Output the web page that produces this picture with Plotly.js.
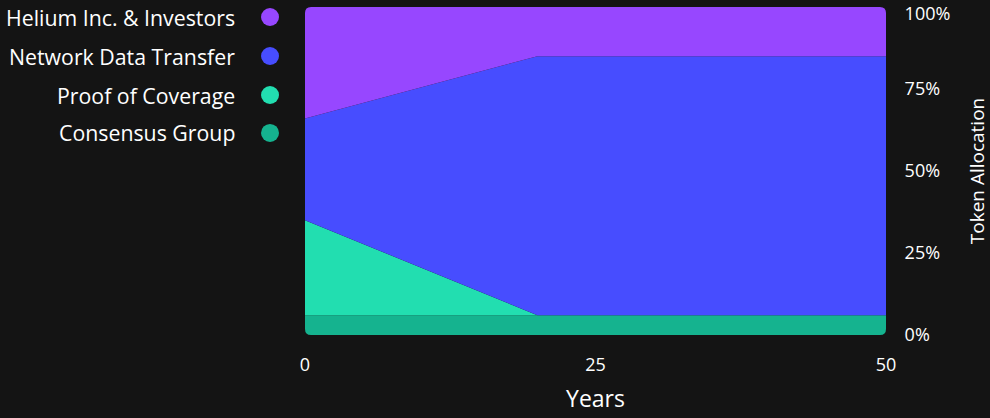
<!DOCTYPE html>
<html>
<head>
<meta charset="utf-8">
<script src="https://cdn.plot.ly/plotly-3.0.1.min.js"></script>
<style>html,body{margin:0;padding:0;background:#141414;}#chart{width:990px;height:418px;}</style>
</head>
<body>
<div id="chart"></div>
<script>
// Data (years vs % token allocation)
const years = [0, 20, 50];
const seriesNames = ["Consensus Group", "Proof of Coverage", "Network Data Transfer", "Helium Inc. & Investors"];
const consensusGroup = [6, 6, 6];
const proofOfCoverage = [29, 0, 0];
const networkDataTransfer = [31, 79, 79];
const heliumInvestors = [34, 15, 15];
const colors = ["#15B38F", "#22DEB0", "#474DFF", "#9747FF"];
const yTicks = [0, 25, 50, 75, 100];
const yTickLabels = ["0%", "25%", "50%", "75%", "100%"];
const xTicks = [0, 25, 50];

const values = [consensusGroup, proofOfCoverage, networkDataTransfer, heliumInvestors];
const FONT = "'Open Sans', sans-serif";
const BG = "#141414";

const traces = values.map((v, i) => ({
  type: "scatter", mode: "lines", x: years, y: v, name: seriesNames[i],
  stackgroup: "one", line: {width: 0, color: colors[i]}, fillcolor: colors[i],
  hoverinfo: "skip", showlegend: false
}));
// empty helper trace so the overlay axis (top tick label) is drawn
traces.push({type: "scatter", mode: "lines", x: [], y: [], yaxis: "y2", showlegend: false, hoverinfo: "skip"});

// custom legend: text on the left, dot on the right (top to bottom: Helium ... Consensus)
const annotations = [];
const shapes = [];
const legendY = [0.9695, 0.8506, 0.7317, 0.6159];
for (let k = 0; k < 4; k++) {
  const i = 3 - k;
  annotations.push({
    xref: "paper", yref: "paper", x: -0.117, y: legendY[k], xanchor: "right", yanchor: "middle",
    text: seriesNames[i], showarrow: false, font: {family: FONT, size: 21.3, color: "#ffffff"}
  });
  shapes.push({
    type: "circle", xref: "paper", yref: "paper", xsizemode: "pixel", ysizemode: "pixel",
    xanchor: -0.0602, yanchor: legendY[k], x0: -9, x1: 9, y0: -9, y1: 9,
    fillcolor: colors[i], line: {width: 0}
  });
}
// rounded plot corners
const r = 6;
const corners = [
  {xa: 0, ya: 100, p: `M0,0 L${r},0 Q0,0 0,${-r} Z`},
  {xa: 50, ya: 100, p: `M0,0 L${-r},0 Q0,0 0,${-r} Z`},
  {xa: 0, ya: 0, p: `M0,0 L${r},0 Q0,0 0,${r} Z`},
  {xa: 50, ya: 0, p: `M0,0 L${-r},0 Q0,0 0,${r} Z`}
];
corners.forEach(c => shapes.push({
  type: "path", xref: "x", yref: "y", xsizemode: "pixel", ysizemode: "pixel",
  xanchor: c.xa, yanchor: c.ya, path: c.p, fillcolor: BG, line: {width: 0}, layer: "above"
}));

const yTickFont = {family: FONT, size: 18, color: "#ffffff"};
const layout = {
  width: 990, height: 418,
  paper_bgcolor: BG, plot_bgcolor: BG,
  margin: {l: 305, r: 104, t: 7, b: 83},
  font: {family: FONT, color: "#ffffff"},
  showlegend: false,
  xaxis: {
    range: [0, 50], tickmode: "array", tickvals: xTicks, showgrid: false, zeroline: false, showline: false,
    ticks: "outside", ticklen: 13, tickcolor: "rgba(0,0,0,0)",
    tickfont: {family: FONT, size: 18, color: "#ffffff"},
    title: {text: "Years", font: {family: FONT, size: 23, color: "#ffffff"}, standoff: 16},
    fixedrange: true
  },
  yaxis: {
    range: [0, 100], side: "right", tickmode: "array",
    tickvals: yTicks.slice(0, 4), ticktext: yTickLabels.slice(0, 4),
    ticklabeloverflow: "allow",
    showgrid: false, zeroline: false, showline: false,
    ticks: "outside", ticklen: 14, tickcolor: "rgba(0,0,0,0)",
    tickfont: yTickFont,
    title: {text: "Token Allocation", font: {family: FONT, size: 19, color: "#ffffff"}, standoff: 32},
    fixedrange: true
  },
  yaxis2: {
    range: [0, 100], side: "right", overlaying: "y", tickmode: "array",
    tickvals: yTicks.slice(4), ticktext: yTickLabels.slice(4),
    ticklabeloverflow: "allow", ticklabelshift: 7,
    showgrid: false, zeroline: false, showline: false,
    ticks: "outside", ticklen: 14, tickcolor: "rgba(0,0,0,0)",
    tickfont: yTickFont, fixedrange: true
  },
  annotations: annotations,
  shapes: shapes
};
Plotly.newPlot("chart", traces, layout, {displayModeBar: false, staticPlot: true});
</script>
</body>
</html>
